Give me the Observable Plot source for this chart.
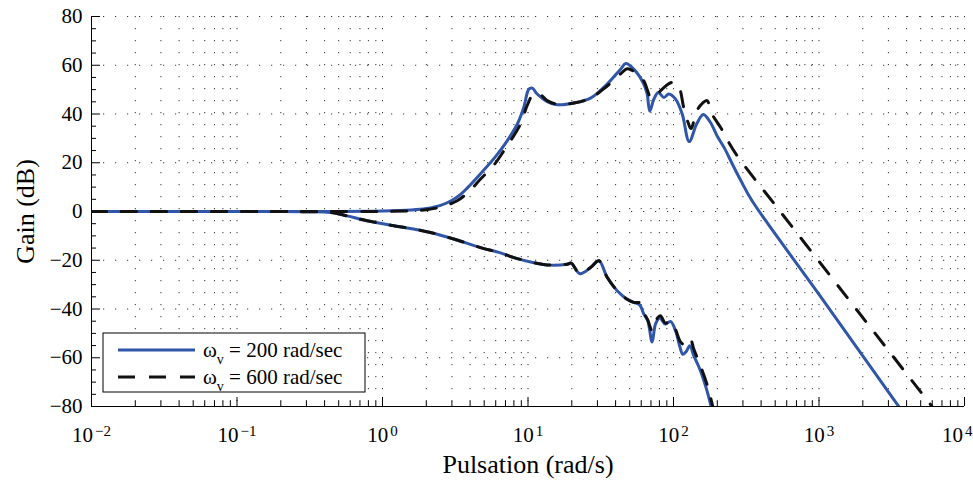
<!DOCTYPE html>
<html><head><meta charset="utf-8">
<script src="https://cdn.jsdelivr.net/npm/d3@7"></script>
<script src="https://cdn.jsdelivr.net/npm/@observablehq/plot@0.6"></script>
<style>html,body{margin:0;padding:0;background:#fff}svg{display:block}</style>
</head><body><div id="chart"></div>
<script>
// ---------- data ----------
const decadeTicks = [0.01, 0.1, 1, 10, 100, 1000, 10000];
const decadeExponents = ["−2", "−1", "0", "1", "2", "3", "4"];
const gainTicks = [-80, -60, -40, -20, 0, 20, 40, 60, 80];
const legendLabels = ["200 rad/sec", "600 rad/sec"];
const xTitle = "Pulsation (rad/s)";
const yTitle = "Gain (dB)";

// upper curve, ωv = 200 rad/sec
const upperW200 = [0.01, 0.316, 1, 1.58, 2.0, 2.51, 3.01, 3.44, 3.82, 4.72, 5.98, 7.19, 8.43, 9.35, 10.14, 10.7, 11.56, 13.55, 15.85, 20.65, 26.9, 35.0, 43.3, 47.0, 53.3, 62.5, 65.9, 68.7, 73.3, 78.5, 85.9, 92.9, 103.3, 114.8, 128.2, 144.5, 160.3, 179.5, 199.5, 223.9, 251.2, 288.4, 346.7, 1000, 3631];
const upperDb200 = [0, 0, 0.2, 0.6, 1.2, 2.5, 4.6, 7.0, 9.6, 15.5, 22.5, 29.0, 35.8, 42.7, 50.2, 50.6, 48.2, 45.1, 43.8, 44.5, 46.5, 52.3, 58.4, 60.7, 58.4, 52.3, 48.2, 41.2, 46.1, 48.8, 46.8, 48.2, 46.1, 40.0, 28.7, 36.0, 39.8, 36.5, 31.0, 26.0, 20.0, 13.0, 4.4, -34, -81];

// upper curve, ωv = 600 rad/sec
const upperW600 = [0.01, 0.316, 1, 1.58, 2.0, 2.5, 3.26, 3.98, 4.72, 5.82, 6.82, 8.87, 9.86, 10.96, 12.19, 13.55, 15.85, 20.65, 26.9, 35.0, 43.3, 48.0, 53.3, 62.5, 66.0, 70.0, 74.0, 83.0, 93.0, 102, 110, 117.5, 126, 132, 144.5, 158.5, 170, 182, 214, 240, 282, 516, 6166];
const upperDb600 = [0, 0, 0, 0.3, 0.7, 1.8, 4.4, 8.5, 13.3, 19.0, 24.9, 35.8, 43.4, 48.4, 47.9, 45.5, 44.0, 44.5, 46.5, 51.5, 56.5, 58.6, 57.5, 53.6, 50.0, 46.5, 47.0, 50.0, 52.5, 53.0, 50.5, 42.7, 36.5, 34.0, 41.3, 44.5, 45.5, 40.5, 33.8, 28.3, 21.8, 1.6, -81];

// lower curve, ωv = 200 rad/sec
const lowerW200 = [0.01, 0.2, 0.3, 0.44, 0.57, 0.785, 1.135, 1.64, 2.14, 3.09, 4.72, 6.47, 8.0, 10.96, 14.3, 18.6, 19.8, 22.7, 26.9, 30.7, 35.0, 41.0, 48.0, 53.3, 58.6, 62.5, 66.5, 71.3, 75.2, 80.4, 87.9, 95.3, 103.3, 110, 116, 122, 129.4, 138, 153.5, 170, 183];
const lowerDb200 = [0, 0, -0.1, -0.4, -1.8, -3.8, -5.6, -7.2, -8.6, -11.3, -14.8, -17.0, -18.9, -21.0, -22.0, -21.6, -21.2, -25.5, -23.0, -20.2, -27.0, -32.5, -36.0, -37.3, -38.3, -42.1, -44.8, -53.5, -46.2, -43.7, -46.2, -45.1, -48.9, -55.0, -58.6, -57.5, -55.1, -59.2, -65.4, -73.6, -81];

// lower curve, ωv = 600 rad/sec
const lowerW600 = [0.01, 0.2, 0.3, 0.44, 0.57, 0.785, 1.135, 1.64, 2.14, 3.09, 4.72, 6.47, 8.0, 10.96, 14.3, 18.6, 19.8, 22.7, 26.9, 30.7, 35.0, 41.0, 48.0, 53.3, 58.6, 62.5, 66.5, 71.3, 75.2, 81.3, 87.9, 95.3, 103.3, 111.7, 118, 129.4, 138, 153.5, 170, 188];
const lowerDb600 = [0, 0, -0.1, -0.4, -1.8, -3.8, -5.6, -7.2, -8.6, -11.3, -14.8, -17.0, -18.9, -21.0, -22.0, -21.6, -21.2, -25.5, -23.0, -20.2, -27.0, -32.5, -36.0, -37.3, -37.5, -41.5, -44.5, -49.0, -45.0, -42.8, -45.8, -45.0, -48.5, -53.5, -54.5, -51.9, -56.5, -63.5, -71.0, -81];

// ---------- layout / style ----------
const W = 973, H = 482, MT = 16, MB = 76, ML = 91, MR = 9;
const frameW = W - ML - MR, frameH = H - MT - MB;
const FONT = "Liberation Serif";
const BLUE = "#2f56a8", BLACK = "#111";

const toRows = (ws, ds) => ws.map((w, i) => ({w, db: ds[i]}));
const up200 = toRows(upperW200, upperDb200), up600 = toRows(upperW600, upperDb600);
const lo200 = toRows(lowerW200, lowerDb200), lo600 = toRows(lowerW600, lowerDb600);

// log grid: 1..9 × each decade
const minorX = [], gridX = [];
for (let k = 0; k < decadeTicks.length - 1; k++) {
  for (let m = 1; m <= 9; m++) {
    const v = decadeTicks[k] * m;
    if (m > 1) minorX.push(v);
    if (!(k === 0 && m === 1)) gridX.push(v);
  }
}
gridX.push(decadeTicks[decadeTicks.length - 1]);
const minorY = [];
for (let v = -75; v <= 75; v += 5) if (v % 20 !== 0) minorY.push(v);
const gridY = gainTicks.filter(v => v !== -80);

const lineOpts = {x: "w", y: "db", strokeWidth: 3, curve: "catmull-rom", clip: true};

const plot = Plot.plot({
  width: W, height: H,
  marginTop: MT, marginBottom: MB, marginLeft: ML, marginRight: MR,
  x: {type: "log", domain: [0.01, 10000], label: null},
  y: {domain: [-80, 80], label: null},
  style: {fontFamily: FONT, background: "#fff", color: "#000"},
  marks: [
    Plot.ruleX(gridX, {stroke: "#333", strokeWidth: 1, strokeDasharray: "1.2,10.8"}),
    Plot.ruleY(gridY, {stroke: "#333", strokeWidth: 1, strokeDasharray: "1.2,10.8"}),
    Plot.ruleX(minorX, {insetTop: frameH - 5, stroke: "#000"}),
    Plot.ruleX(decadeTicks, {insetTop: frameH - 9, stroke: "#000"}),
    Plot.ruleY(minorY, {insetRight: frameW - 5, stroke: "#000"}),
    Plot.ruleY(gainTicks, {insetRight: frameW - 9, stroke: "#000"}),
    Plot.ruleX([0.01], {stroke: "#000"}),
    Plot.ruleY([-80], {stroke: "#000"}),
    Plot.axisX(decadeTicks, {tickSize: 0, tickPadding: 21, fontSize: 21, label: null, fontFamily: FONT,
      tickFormat: d => "10^" + decadeExponents[decadeTicks.indexOf(d)]}),
    Plot.axisY(gainTicks, {tickSize: 0, tickPadding: 9, fontSize: 21, label: null, fontFamily: FONT,
      tickFormat: d => (d < 0 ? "−" + (-d) : String(d))}),
    Plot.text([yTitle], {frameAnchor: "left", dx: -66, rotate: -90, fontSize: 26, fontFamily: FONT, textAnchor: "middle", lineAnchor: "middle", text: d => d}),
    Plot.text([xTitle], {frameAnchor: "bottom", dy: 58, fontSize: 26, fontFamily: FONT, textAnchor: "middle", lineAnchor: "middle", text: d => d}),
    Plot.line(up200, {...lineOpts, stroke: BLUE}),
    Plot.line(lo200, {...lineOpts, stroke: BLUE}),
    Plot.line(up600, {...lineOpts, stroke: BLACK, strokeDasharray: "15,15"}),
    Plot.line(lo600, {...lineOpts, stroke: BLACK, strokeDasharray: "15,15"})
  ]
});

const svg = d3.select(plot);

// superscript exponents on the decade labels
svg.selectAll('[aria-label="x-axis tick label"] text').each(function (d, i, nodes) {
  const t = d3.select(this);
  const [base, exp] = t.text().split("^");
  t.text(base);
  t.append("tspan").attr("dy", "-0.45em").attr("dx", "2").attr("font-size", 15).text(exp);
  if (i === nodes.length - 1) t.attr("text-anchor", "end").attr("dx", 8);
});

// legend
const lg = svg.append("g").attr("font-family", FONT).attr("font-size", 21).attr("text-anchor", "start");
lg.append("rect").attr("x", 103).attr("y", 333).attr("width", 262).attr("height", 59)
  .attr("fill", "#fff").attr("stroke", "#000").attr("stroke-width", 1);
const rows = [{y: 350, stroke: BLUE, dash: null}, {y: 377, stroke: BLACK, dash: "17,14"}];
rows.forEach((r, i) => {
  lg.append("line").attr("x1", 118).attr("x2", 195).attr("y1", r.y).attr("y2", r.y)
    .attr("stroke", r.stroke).attr("stroke-width", 3).attr("stroke-dasharray", r.dash);
  const t = lg.append("text").attr("x", 203).attr("y", r.y + 7).attr("text-anchor", "start");
  t.append("tspan").text("ω");
  t.append("tspan").attr("font-size", 14).attr("dy", 7).text("v");
  t.append("tspan").attr("dy", -7).text(" = " + legendLabels[i]);
});

svg.selectAll("text").attr("font-family", FONT);

document.getElementById("chart").appendChild(plot);
</script>
</body></html>
